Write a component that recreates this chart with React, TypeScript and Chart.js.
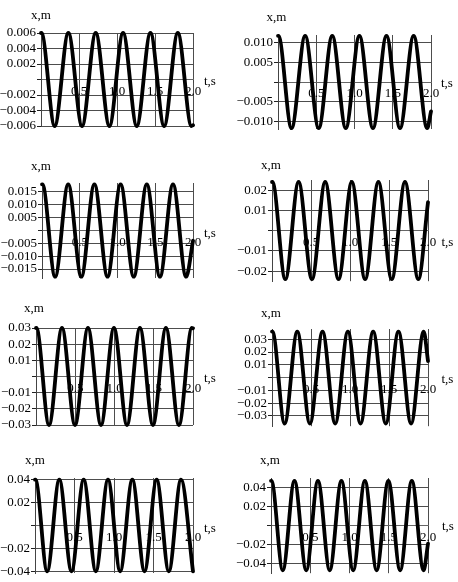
import React, { useEffect, useRef } from 'react';
import { Chart, registerables } from 'chart.js';

Chart.register(...registerables);

// ---------- data ----------
const xTicks = [0, 0.5, 1.0, 1.5, 2.0];

const times1 = [0, 0.005, 0.18, 0.36, 0.54, 0.72, 0.9, 1.08, 1.26, 1.44, 1.62, 1.8, 1.98, 2.0];
const x1 = [0.006, 0.006, -0.006, 0.006, -0.006, 0.006, -0.006, 0.006, -0.006, 0.006, -0.006, 0.006, -0.006, -0.0059];
const yTicks1 = [-0.006, -0.004, -0.002, 0, 0.002, 0.004, 0.006];

const times2 = [0, 0.005, 0.177, 0.355, 0.532, 0.709, 0.886, 1.064, 1.241, 1.418, 1.595, 1.773, 1.95, 2.0];
const x2 = [0.0118, 0.0118, -0.0118, 0.0118, -0.0118, 0.0118, -0.0118, 0.0118, -0.0118, 0.0118, -0.0118, 0.0118, -0.0118, -0.0075];
const yTicks2 = [-0.01, -0.005, 0, 0.005, 0.01];

const times3 = [0, 0.005, 0.174, 0.347, 0.521, 0.694, 0.868, 1.041, 1.215, 1.388, 1.562, 1.735, 1.909, 2.0];
const x3 = [0.018, 0.018, -0.018, 0.018, -0.018, 0.018, -0.018, 0.018, -0.018, 0.018, -0.018, 0.018, -0.018, -0.004];
const yTicks3 = [-0.015, -0.01, -0.005, 0, 0.005, 0.01, 0.015];

const times4 = [0, 0.005, 0.171, 0.341, 0.512, 0.682, 0.853, 1.023, 1.194, 1.364, 1.535, 1.705, 1.876, 2.0];
const x4 = [0.024, 0.024, -0.024, 0.024, -0.024, 0.024, -0.024, 0.024, -0.024, 0.024, -0.024, 0.024, -0.024, 0.014];
const yTicks4 = [-0.02, -0.01, 0, 0.01, 0.02];

const times5 = [0, 0.005, 0.166, 0.331, 0.497, 0.662, 0.828, 0.993, 1.159, 1.324, 1.49, 1.655, 1.821, 1.986, 2.0];
const x5 = [0.03, 0.03, -0.03, 0.03, -0.03, 0.03, -0.03, 0.03, -0.03, 0.03, -0.03, 0.03, -0.03, 0.03, 0.0298];
const yTicks5 = [-0.03, -0.02, -0.01, 0, 0.01, 0.02, 0.03];

const times6 = [0, 0.005, 0.162, 0.324, 0.486, 0.648, 0.81, 0.973, 1.135, 1.297, 1.459, 1.621, 1.783, 1.945, 2.0];
const x6 = [0.036, 0.036, -0.036, 0.036, -0.036, 0.036, -0.036, 0.036, -0.036, 0.036, -0.036, 0.036, -0.036, 0.036, 0.013];
const yTicks6 = [-0.03, -0.02, -0.01, 0, 0.01, 0.02, 0.03];

const times7 = [0, 0.005, 0.154, 0.308, 0.462, 0.616, 0.77, 0.924, 1.078, 1.232, 1.386, 1.54, 1.694, 1.848, 2.0];
const x7 = [0.04, 0.04, -0.04, 0.04, -0.04, 0.04, -0.04, 0.04, -0.04, 0.04, -0.04, 0.04, -0.04, 0.04, -0.04];
const yTicks7 = [-0.04, -0.02, 0, 0.02, 0.04];

const times8 = [0, 0.005, 0.15, 0.299, 0.449, 0.598, 0.748, 0.897, 1.047, 1.196, 1.346, 1.495, 1.645, 1.794, 1.944, 2.0];
const x8 = [0.047, 0.047, -0.047, 0.047, -0.047, 0.047, -0.047, 0.047, -0.047, 0.047, -0.047, 0.047, -0.047, 0.047, -0.047, -0.019];
const yTicks8 = [-0.04, -0.02, 0, 0.02, 0.04];

const yRanges = [0.006, 0.012, 0.0185, 0.025, 0.03, 0.038, 0.0415, 0.05];
const yDecimals = [3, 3, 3, 2, 2, 2, 2, 2];

// ---------- layout (panel boxes, chart areas, label offsets) ----------
type Box = { x: number; y: number; w: number; h: number; left: number; right: number; top: number; bottom: number };
const boxes: Box[] = [
  { x: 0, y: 0, w: 229, h: 145, left: 41, right: 193, top: 33, bottom: 126 },
  { x: 229, y: 0, w: 229, h: 145, left: 49, right: 202, top: 35, bottom: 129 },
  { x: 0, y: 145, w: 229, h: 145, left: 42, right: 193, top: 38, bottom: 133 },
  { x: 229, y: 145, w: 229, h: 145, left: 43, right: 199, top: 35, bottom: 137 },
  { x: 0, y: 290, w: 229, h: 145, left: 36, right: 193, top: 38, bottom: 135 },
  { x: 229, y: 290, w: 229, h: 145, left: 43, right: 199, top: 39, bottom: 140 },
  { x: 0, y: 435, w: 229, h: 147, left: 35, right: 193, top: 43, bottom: 138 },
  { x: 229, y: 435, w: 229, h: 147, left: 42, right: 199, top: 43, bottom: 143 },
];
// [dx from chartArea.left, dy above chartArea.top]
const yNameOffsets: [number, number][] = [
  [0, 17], [-1.5, 17], [-1, 16], [-1, 14], [-2, 19], [-1, 15.5], [0, 17], [-1, 17],
];
// [dx from chartArea.right, dy from zero line]
const xNameOffsets: [number, number][] = [
  [11, 2], [10, 1.5], [11, 3.5], [13.5, 11.5], [11, 2.5], [13.5, 2], [11, 3], [14, 1],
];

const FONT = '"Liberation Serif", "Times New Roman", serif';
const GRID = '#4d4d4d';

const axisNames = {
  id: 'axisNames',
  afterDraw(chart: any, _args: any, opts: any) {
    const { ctx, chartArea, scales } = chart;
    ctx.save();
    ctx.font = `13px ${FONT}`;
    ctx.fillStyle = '#000';
    ctx.textBaseline = 'middle';
    ctx.textAlign = 'center';
    ctx.fillText('x,m', chartArea.left + opts.yName[0], chartArea.top - opts.yName[1]);
    ctx.textAlign = 'left';
    ctx.fillText('t,s', chartArea.right + opts.xName[0], scales.y.getPixelForValue(0) + opts.xName[1]);
    ctx.restore();
  },
};

const fmt = (v: number, d: number) => (v < 0 ? '\u2212' : '') + Math.abs(v).toFixed(d);

type PanelProps = { idx: number; times: number[]; values: number[]; yTicks: number[] };

function Panel({ idx, times, values, yTicks }: PanelProps) {
  const ref = useRef<HTMLCanvasElement | null>(null);
  const box = boxes[idx];
  useEffect(() => {
    if (!ref.current) return;
    const range = yRanges[idx];
    const dec = yDecimals[idx];
    const chart = new Chart(ref.current, {
      type: 'line',
      data: {
        datasets: [
          {
            data: times.map((t, i) => ({ x: t, y: values[i] })),
            borderColor: '#000',
            borderWidth: 3.8,
            pointRadius: 0,
            fill: false,
            cubicInterpolationMode: 'monotone',
            borderCapStyle: 'round',
            borderJoinStyle: 'round',
            clip: { left: 2, right: 2, top: 6, bottom: 6 },
          } as any,
        ],
      },
      options: {
        responsive: false,
        animation: false,
        events: [],
        layout: {
          padding: { left: 0, top: box.top, right: box.w - box.right, bottom: box.h - box.bottom },
        },
        plugins: {
          legend: { display: false },
          tooltip: { enabled: false },
          axisNames: { yName: yNameOffsets[idx], xName: xNameOffsets[idx] },
        } as any,
        scales: {
          x: {
            type: 'linear',
            min: 0,
            max: 2,
            position: { y: 0 } as any,
            afterBuildTicks: (s: any) => {
              s.ticks = xTicks.map((v) => ({ value: v }));
            },
            afterFit: (s: any) => {
              s.height = 0;
            },
            grid: {
              color: (c: any) => (c.tick && c.tick.value === 0 ? 'rgba(0,0,0,0)' : GRID),
              tickColor: '#444',
              lineWidth: 1,
              tickLength: 3,
            },
            border: { display: true, color: '#666', width: 1 },
            ticks: {
              autoSkip: false,
              maxRotation: 0,
              padding: 1,
              color: '#000',
              font: { family: FONT, size: 13 },
              callback: (v: any) => (Number(v) === 0 ? '' : Number(v).toFixed(1)),
            },
          },
          y: {
            type: 'linear',
            min: -range,
            max: range,
            position: 'left',
            afterBuildTicks: (s: any) => {
              s.ticks = yTicks.map((v) => ({ value: v }));
            },
            afterFit: (s: any) => {
              s.width = box.left;
            },
            grid: { color: GRID, tickColor: '#222', lineWidth: 1, tickLength: 4 },
            border: { display: true, color: '#444', width: 1 },
            ticks: {
              autoSkip: false,
              padding: 1,
              color: '#000',
              font: { family: FONT, size: 13 },
              callback: (v: any) => (Number(v) === 0 ? '' : fmt(Number(v), dec)),
            },
          },
        },
      } as any,
      plugins: [axisNames as any],
    });
    return () => chart.destroy();
  }, [idx, times, values, yTicks]);
  return (
    <canvas
      ref={ref}
      width={box.w}
      height={box.h}
      style={{ position: 'absolute', left: box.x, top: box.y, width: box.w, height: box.h }}
    />
  );
}

export default function App() {
  return (
    <div style={{ position: 'absolute', left: 0, top: 0, width: 458, height: 582, background: '#fff' }}>
      <Panel idx={0} times={times1} values={x1} yTicks={yTicks1} />
      <Panel idx={1} times={times2} values={x2} yTicks={yTicks2} />
      <Panel idx={2} times={times3} values={x3} yTicks={yTicks3} />
      <Panel idx={3} times={times4} values={x4} yTicks={yTicks4} />
      <Panel idx={4} times={times5} values={x5} yTicks={yTicks5} />
      <Panel idx={5} times={times6} values={x6} yTicks={yTicks6} />
      <Panel idx={6} times={times7} values={x7} yTicks={yTicks7} />
      <Panel idx={7} times={times8} values={x8} yTicks={yTicks8} />
    </div>
  );
}
